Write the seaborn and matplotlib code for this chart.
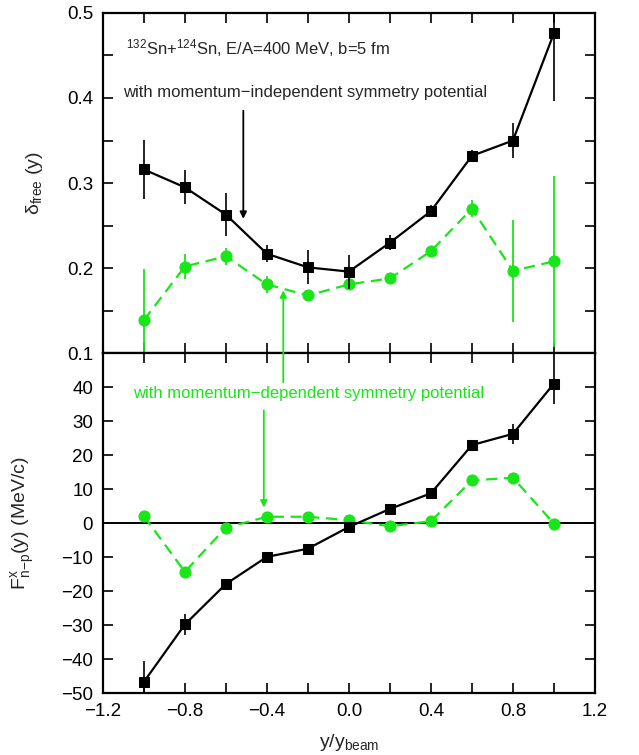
import numpy as np
import pandas as pd
import matplotlib
matplotlib.use("Agg")
import matplotlib.pyplot as plt
import seaborn as sns
from matplotlib.ticker import MultipleLocator, FormatStrFormatter
from matplotlib.patches import ConnectionPatch

# Rapidity bins
rapidity = [-1.0, -0.8, -0.6, -0.4, -0.2, 0.0, 0.2, 0.4, 0.6, 0.8, 1.0]

# Free-nucleon isospin asymmetry delta_free(y)
delta_mi = [0.316, 0.295, 0.263, 0.217, 0.201, 0.196, 0.230, 0.267, 0.332, 0.350, 0.476]
delta_mi_err = [0.035, 0.020, 0.025, 0.010, 0.020, 0.020, 0.009, 0.007, 0.007, 0.020, 0.080]
delta_md = [0.139, 0.202, 0.214, 0.181, 0.168, 0.181, 0.188, 0.220, 0.270, 0.197, 0.208]
delta_md_err = [0.060, 0.015, 0.010, 0.010, 0.005, 0.004, 0.004, 0.004, 0.010, 0.060, 0.100]

# Neutron-proton differential transverse flow F^x_{n-p}(y) in MeV/c
flow_mi = [-46.7, -29.8, -17.9, -9.9, -7.5, -1.1, 4.2, 8.8, 23.0, 26.3, 41.1]
flow_mi_err = [6.0, 3.0, 1.0, 1.0, 1.0, 1.0, 1.0, 1.0, 1.0, 3.0, 6.0]
flow_md = [2.1, -14.3, -1.3, 1.9, 1.9, 0.9, -0.9, 0.6, 12.6, 13.4, -0.1]

GREEN = "#18e618"

sns.set_theme(style="ticks")
plt.rcParams["font.family"] = ["Liberation Sans", "DejaVu Sans"]
plt.rcParams["mathtext.fontset"] = "custom"
plt.rcParams["mathtext.rm"] = "Liberation Sans"
plt.rcParams["mathtext.it"] = "Liberation Sans:italic"
plt.rcParams["mathtext.bf"] = "Liberation Sans:bold"
plt.rcParams["axes.unicode_minus"] = True

df = pd.DataFrame({
    "y": rapidity,
    "delta_mi": delta_mi, "delta_mi_err": delta_mi_err,
    "delta_md": delta_md, "delta_md_err": delta_md_err,
    "flow_mi": flow_mi, "flow_mi_err": flow_mi_err,
    "flow_md": flow_md,
})

fig = plt.figure(figsize=(6.39, 7.55), dpi=100)
left, width = 0.161, 0.770
ax_top = fig.add_axes([left, 0.532, width, 0.451])
ax_bot = fig.add_axes([left, 0.082, width, 0.450], sharex=ax_top)

# --- upper panel: delta_free ---
ax_top.errorbar(df["y"], df["delta_md"], yerr=df["delta_md_err"], fmt="none",
                ecolor=GREEN, elinewidth=1.3, capsize=0, zorder=2)
sns.lineplot(data=df, x="y", y="delta_md", ax=ax_top, color=GREEN, lw=1.6,
             marker="o", markersize=8, markeredgecolor=GREEN, zorder=3)
ax_top.lines[-1].set_dashes([5, 3])
ax_top.errorbar(df["y"], df["delta_mi"], yerr=df["delta_mi_err"], fmt="none",
                ecolor="black", elinewidth=1.2, capsize=0, zorder=4)
sns.lineplot(data=df, x="y", y="delta_mi", ax=ax_top, color="black", lw=1.6,
             marker="s", markersize=7.5, markeredgecolor="black", zorder=5)

# --- lower panel: F^x_{n-p} ---
ax_bot.axhline(0, color="black", lw=1.4, zorder=1)
sns.lineplot(data=df, x="y", y="flow_md", ax=ax_bot, color=GREEN, lw=1.6,
             marker="o", markersize=8, markeredgecolor=GREEN, zorder=3)
ax_bot.lines[-1].set_dashes([5, 3])
ax_bot.errorbar(df["y"], df["flow_mi"], yerr=df["flow_mi_err"], fmt="none",
                ecolor="black", elinewidth=1.2, capsize=0, zorder=4)
sns.lineplot(data=df, x="y", y="flow_mi", ax=ax_bot, color="black", lw=1.6,
             marker="s", markersize=7.5, markeredgecolor="black", zorder=5)

# Axes limits and ticks
for ax in (ax_top, ax_bot):
    ax.set_xlim(-1.2, 1.2)
    ax.xaxis.set_major_locator(MultipleLocator(0.4))
    ax.xaxis.set_minor_locator(MultipleLocator(0.2))
    ax.tick_params(which="both", direction="in", top=True, right=True,
                   labelsize=13.5, width=1.2, colors="black")
    ax.tick_params(which="major", length=7, pad=7)
    ax.tick_params(which="minor", length=7)
    for sp in ax.spines.values():
        sp.set_linewidth(1.6)
        sp.set_color("black")
    ax.set_xlabel("")
    ax.set_ylabel("")

ax_top.set_ylim(0.1, 0.5)
ax_top.yaxis.set_major_locator(MultipleLocator(0.1))
ax_top.yaxis.set_minor_locator(MultipleLocator(0.05))
ax_top.yaxis.set_major_formatter(FormatStrFormatter("%.1f"))
ax_top.tick_params(labelbottom=False)

ax_bot.set_ylim(-50, 50)
ax_bot.set_yticks([-50, -40, -30, -20, -10, 0, 10, 20, 30, 40])
ax_bot.yaxis.set_minor_locator(MultipleLocator(10))
ax_bot.set_xticks([-1.2, -0.8, -0.4, 0.0, 0.4, 0.8, 1.2])
ax_bot.set_xticklabels(["\u22121.2", "\u22120.8", "\u22120.4", "0.0", "0.4", "0.8", "1.2"])

ax_top.set_ylabel("\u03b4$_{\\rm free}$ (y)", fontsize=14)
ax_bot.set_ylabel(r"F$^{\rm x}_{\rm n\!-\!p}$(y) (MeV/c)", fontsize=14)
ax_top.yaxis.set_label_coords(-0.118, 0.5)
ax_bot.yaxis.set_label_coords(-0.134, 0.5)
ax_bot.set_xlabel(r"y/y$_{\rm beam}$", fontsize=14, labelpad=9)

# Annotations
ax_top.text(-1.085, 0.459, r"$^{132}$Sn+$^{124}$Sn, E/A=400 MeV, b=5 fm",
            fontsize=12, va="center", ha="left")
ax_top.text(-1.10, 0.407, "with momentum\u2212independent symmetry potential",
            fontsize=12, va="center", ha="left")
ax_top.annotate("", xy=(-0.515, 0.258), xytext=(-0.515, 0.385),
                arrowprops=dict(arrowstyle="-|>", color="black", lw=1.3,
                                mutation_scale=10, shrinkA=0, shrinkB=0))

ax_bot.text(-1.055, 38.2, "with momentum\u2212dependent symmetry potential",
            fontsize=12, va="center", ha="left", color=GREEN)
# arrow running from the lower panel up into the upper one
up_arrow = ConnectionPatch(xyA=(-0.32, 41.5), coordsA=ax_bot.transData,
                           xyB=(-0.32, 0.174), coordsB=ax_top.transData,
                           arrowstyle="-|>", color=GREEN, lw=1.3,
                           mutation_scale=10, shrinkA=0, shrinkB=0, zorder=6)
fig.add_artist(up_arrow)
ax_bot.annotate("", xy=(-0.415, 4.6), xytext=(-0.415, 33.2),
                arrowprops=dict(arrowstyle="-|>", color=GREEN, lw=1.3,
                                mutation_scale=10, shrinkA=0, shrinkB=0))

fig.savefig("out.png", dpi=100)
